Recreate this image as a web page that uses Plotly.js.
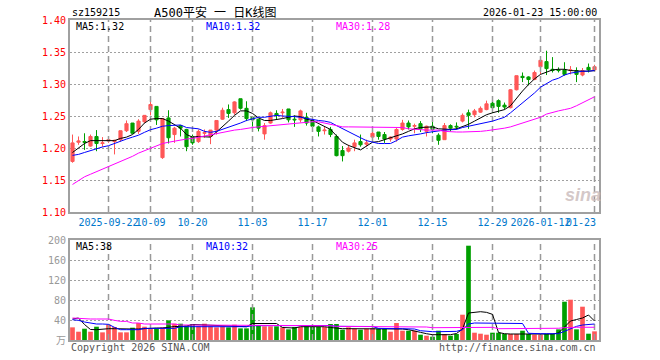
<!DOCTYPE html>
<html><head><meta charset="utf-8">
<script src="https://cdn.plot.ly/plotly-3.0.1.min.js"></script>
<style>html,body{margin:0;padding:0;background:#fff}#chart{width:660px;height:360px}</style>
</head><body><div id="chart"></div>
<script>
const dates = [
'2025-09-12','2025-09-15','2025-09-16','2025-09-17','2025-09-18','2025-09-19',
'2025-09-22','2025-09-23','2025-09-24','2025-09-25','2025-09-26','2025-09-29','2025-09-30',
'2025-10-09','2025-10-10','2025-10-13','2025-10-14','2025-10-15','2025-10-16','2025-10-17',
'2025-10-20','2025-10-21','2025-10-22','2025-10-23','2025-10-24','2025-10-27','2025-10-28','2025-10-29','2025-10-30','2025-10-31',
'2025-11-03','2025-11-04','2025-11-05','2025-11-06','2025-11-07','2025-11-10','2025-11-11','2025-11-12','2025-11-13','2025-11-14',
'2025-11-17','2025-11-18','2025-11-19','2025-11-20','2025-11-21','2025-11-24','2025-11-25','2025-11-26','2025-11-27','2025-11-28',
'2025-12-01','2025-12-02','2025-12-03','2025-12-04','2025-12-05','2025-12-08','2025-12-09','2025-12-10','2025-12-11','2025-12-12',
'2025-12-15','2025-12-16','2025-12-17','2025-12-18','2025-12-19','2025-12-22','2025-12-23','2025-12-24','2025-12-25','2025-12-26',
'2025-12-29','2025-12-30','2025-12-31','2026-01-05','2026-01-06','2026-01-07','2026-01-08','2026-01-09',
'2026-01-12','2026-01-13','2026-01-14','2026-01-15','2026-01-16','2026-01-19','2026-01-20','2026-01-21','2026-01-22','2026-01-23'];

const openP = [1.179,1.209,1.210,1.203,1.218,1.207,1.211,1.210,1.213,1.227,
1.239,1.226,1.241,1.260,1.265,1.185,1.247,1.221,1.235,1.229,
1.218,1.210,1.223,1.218,1.228,1.245,1.260,1.255,1.277,1.262,
1.248,1.245,1.222,1.239,1.254,1.255,1.261,1.245,1.244,1.248,
1.243,1.233,1.227,1.229,1.218,1.196,1.195,1.202,1.210,1.206,
1.217,1.225,1.221,1.214,1.214,1.229,1.239,1.234,1.238,1.226,
1.234,1.220,1.213,1.235,1.234,1.242,1.255,1.252,1.256,1.260,
1.270,1.274,1.267,1.263,1.291,1.312,1.311,1.307,1.327,1.335,
1.323,1.322,1.322,1.321,1.321,1.314,1.326,1.322];
const highP = [1.221,1.218,1.223,1.221,1.228,1.217,1.215,1.213,1.227,1.243,
1.239,1.245,1.251,1.274,1.265,1.246,1.259,1.233,1.236,1.230,
1.221,1.229,1.229,1.228,1.243,1.263,1.268,1.273,1.277,1.273,
1.250,1.245,1.239,1.257,1.259,1.261,1.261,1.251,1.260,1.255,
1.243,1.235,1.233,1.233,1.221,1.203,1.205,1.213,1.221,1.213,
1.226,1.225,1.225,1.218,1.231,1.244,1.243,1.238,1.242,1.235,
1.242,1.223,1.239,1.237,1.240,1.254,1.260,1.261,1.265,1.274,
1.273,1.276,1.271,1.292,1.313,1.318,1.312,1.321,1.337,1.352,
1.342,1.326,1.334,1.328,1.326,1.325,1.332,1.330];
const lowP = [1.177,1.205,1.197,1.202,1.195,1.202,1.208,1.190,1.210,1.225,
1.222,1.222,1.239,1.251,1.236,1.183,1.207,1.208,1.218,1.195,
1.205,1.208,1.216,1.206,1.221,1.244,1.247,1.252,1.260,1.242,
1.229,1.226,1.213,1.238,1.244,1.247,1.240,1.233,1.240,1.235,
1.228,1.218,1.221,1.217,1.187,1.179,1.193,1.195,1.202,1.202,
1.212,1.213,1.208,1.210,1.210,1.227,1.229,1.223,1.225,1.218,
1.223,1.205,1.213,1.226,1.229,1.240,1.230,1.248,1.255,1.259,
1.255,1.255,1.260,1.262,1.290,1.303,1.298,1.306,1.315,1.314,
1.318,1.318,1.313,1.315,1.303,1.312,1.318,1.320];
const closeP = [1.208,1.211,1.209,1.218,1.207,1.208,1.213,1.212,1.227,1.238,
1.223,1.242,1.251,1.268,1.244,1.246,1.216,1.231,1.231,1.202,
1.208,1.226,1.224,1.228,1.243,1.259,1.254,1.272,1.262,1.246,
1.244,1.231,1.235,1.255,1.251,1.256,1.244,1.244,1.258,1.239,
1.234,1.226,1.228,1.221,1.188,1.188,1.200,1.208,1.205,1.208,
1.223,1.218,1.214,1.217,1.229,1.239,1.233,1.235,1.230,1.234,
1.229,1.212,1.235,1.231,1.233,1.251,1.251,1.258,1.262,1.269,
1.263,1.265,1.264,1.291,1.313,1.310,1.307,1.318,1.337,1.324,
1.321,1.321,1.315,1.322,1.315,1.321,1.322,1.327];

const ma5 = [1.193,1.200,1.207,1.2115,1.2115,1.2115,1.2115,1.2115,1.215,1.217,
1.221,1.229,1.239,1.245,1.246,1.246,1.242,1.237,1.231,1.221,
1.217,1.218,1.217,1.217,1.225,1.233,1.242,1.251,1.258,1.258,
1.254,1.247,1.243,1.243,1.244,1.246,1.248,1.250,1.249,1.245,
1.243,1.238,1.233,1.229,1.219,1.209,1.204,1.200,1.197,1.203,
1.209,1.210,1.213,1.215,1.218,1.222,1.226,1.230,1.232,1.233,
1.233,1.230,1.229,1.229,1.230,1.233,1.237,1.242,1.247,1.252,
1.255,1.257,1.260,1.266,1.278,1.289,1.299,1.308,1.315,1.318,
1.322,1.323,1.323,1.321,1.320,1.320,1.320,1.321];
const ma10 = [1.1885,1.190,1.193,1.196,1.198,1.2016,1.2036,1.207,1.2115,1.214,
1.217,1.220,1.2245,1.2286,1.231,1.234,1.235,1.235,1.236,1.232,
1.231,1.230,1.226,1.2245,1.226,1.229,1.232,1.235,1.239,1.243,
1.246,1.248,1.248,1.250,1.251,1.250,1.250,1.249,1.248,1.246,
1.244,1.243,1.242,1.240,1.235,1.230,1.225,1.221,1.216,1.2115,
1.209,1.207,1.207,1.207,1.2115,1.217,1.219,1.220,1.222,1.224,
1.2255,1.227,1.228,1.2286,1.229,1.232,1.234,1.2354,1.2375,1.240,
1.242,1.245,1.248,1.255,1.2625,1.270,1.278,1.286,1.295,1.3005,
1.306,1.309,1.314,1.317,1.319,1.320,1.320,1.321];
const ma30 = [1.143,1.149,1.155,1.159,1.163,1.166,1.170,1.175,1.178,1.182,
1.187,1.192,1.196,1.200,1.203,1.207,1.209,1.211,1.212,1.214,
1.215,1.217,1.218,1.220,1.222,1.225,1.226,1.228,1.229,1.231,
1.232,1.233,1.234,1.235,1.236,1.237,1.238,1.239,1.240,1.241,
1.241,1.241,1.239,1.237,1.235,1.233,1.233,1.233,1.233,1.233,
1.233,1.233,1.233,1.233,1.233,1.232,1.230,1.229,1.228,1.228,
1.228,1.228,1.226,1.225,1.225,1.225,1.225,1.225,1.226,1.227,
1.228,1.229,1.231,1.233,1.236,1.239,1.242,1.245,1.248,1.253,
1.256,1.258,1.260,1.262,1.266,1.271,1.275,1.280];

const volume = [25.3,16.6,22.6,16.6,26.6,15.3,30.6,26,15.3,15.3,
24.6,34,26.6,22,23.3,25.3,39.3,32.6,32.6,28.6,
32,27.3,32.6,27.3,25.3,27.3,25.3,30.6,23.3,23.3,
65.3,30,27.3,27.3,27.3,25.3,21.3,26,26,27.3,
26,26,26,32,32,20.6,25.3,22.6,20.6,22.6,
23.9,22.6,22.6,16.6,34,18.6,18.6,18.6,10.6,8.6,
6.6,18.6,12,8.6,12,50.6,188.6,14.6,12.6,10.6,
14.6,14.6,12,12,12,18.6,12,10.6,10.6,12,
12,21.3,76.6,80.6,21.3,66.6,12.6,17.3];
const vma5 = [42,44,31,21,20.6,22,22.6,22.6,22,22,
22,22,23,24,24,24,26,27,27,28,
31,30.6,30,29,28.6,28.6,28,27,26.6,26.6,
33,33.3,33.3,33.3,33,25,24,24,26.6,26.6,
26.6,26.6,26.6,25,23.3,22.6,22.6,22.6,23.3,23.3,
23.3,23.3,22.6,22,22,22,20.6,18.6,15.3,12.6,
10.6,10.6,10.6,10.6,13,22,54,56,56.6,55.3,
51.3,15,12.6,12,12,12,12.6,12.6,12.6,12.6,
12,14,25.3,38,41,44,50,38];
const vma10 = [40.6,39.3,36,33.3,32,32,31.3,25.3,20.6,20.6,
20.6,20.6,23.3,23.3,23.3,23.3,23.3,23.3,26.6,26.6,
26.6,26.6,26.6,26.6,26.6,26.6,26.6,26.6,26.6,26.6,
28.6,28.6,29.3,29.3,29.3,29.3,29.3,29.3,29.3,29.3,
29.3,29.3,29.3,29,27.3,27.3,27.3,27.3,27,27,
27,23.3,22.6,22.6,22.6,22.6,22,22,18.6,17.3,
16.6,16.6,16.6,16.6,17.3,20.6,32,34,34,34,
34,34,34,34,34,33,13.4,12.6,12.6,12.6,
12.6,12.6,17.3,22,27.3,30,30.6,32];
const vma30 = [44,43,42,42,42,42,42,39.3,37.3,37.3,
34,34,32,32,32,32,32,32,30,30,
30,30,30,30,30,28.6,28.6,28.6,28.6,28.6,
28.6,28.6,28.6,28.6,28.6,28.6,28.6,28.6,28.6,28.6,
28.6,28.6,28.6,28.6,27.3,27.3,27.3,27.3,27.3,27.3,
27.3,26,26,26,26,26,26,26,26,26,
24.6,24.6,24.6,24.6,24.6,24.6,25.3,25.3,25.3,25.3,
25.3,22.6,22.6,22.6,22.6,22.6,22.6,22.6,22.6,22.6,
22.6,23.5,24.6,25.5,25.5,25.5,25.5,25.5];

const tickDates = ['2025-09-22','2025-10-09','2025-10-20','2025-11-03','2025-11-17','2025-12-01','2025-12-15','2025-12-29','2026-01-12','2026-01-23'];
const tickLabels = ['2025-09-22','10-09','10-20','11-03','11-17','12-01','12-15','12-29','2026-01-12',''];
const lastLabel = '01-23';
const priceTicks = [1.10,1.15,1.20,1.25,1.30,1.35,1.40];
const volTicks = [0,40,80,120,160,200];
const volTickText = ['万','40','80','120','160','200'];
const priceRange = [1.10, 1.40];
const volRange = [0, 200];

// trading-day slot of each date (one slot per trading day, as on the K-line chart)
const xi = dates.map((d,i)=>i);
const tickPos = tickDates.map(d=>dates.indexOf(d));

const RED = '#ff5757', GREEN = '#009f00', GRID = '#a0a0a0', VGRID = '#999999';
const volColors = closeP.map((c,i)=> c >= openP[i] ? RED : GREEN);
const MONO = 'DejaVu Sans Mono, Noto Sans CJK SC, monospace';

// vertical dashed date grid lines, one scatter trace per tick date in each panel
const traces = [];
tickPos.forEach(p => {
  traces.push({type:'scatter', mode:'lines', x:[p,p], y:priceRange, xaxis:'x', yaxis:'y', line:{color:VGRID, width:1.5, dash:'6px,4px'}, hoverinfo:'skip'});
  traces.push({type:'scatter', mode:'lines', x:[p,p], y:volRange, xaxis:'x2', yaxis:'y2', line:{color:VGRID, width:1.5, dash:'6px,4px'}, hoverinfo:'skip'});
});
traces.push(
  {type:'candlestick', x:xi, open:openP, high:highP, low:lowP, close:closeP, text:dates, xaxis:'x', yaxis:'y',
   increasing:{line:{color:RED,width:1}, fillcolor:RED},
   decreasing:{line:{color:GREEN,width:1}, fillcolor:GREEN},
   whiskerwidth:0, hoverinfo:'skip'},
  {type:'scatter', mode:'lines', x:xi, y:ma5, xaxis:'x', yaxis:'y', line:{color:'#000000',width:1}, hoverinfo:'skip'},
  {type:'scatter', mode:'lines', x:xi, y:ma10, xaxis:'x', yaxis:'y', line:{color:'#0000ff',width:1}, hoverinfo:'skip'},
  {type:'scatter', mode:'lines', x:xi, y:ma30, xaxis:'x', yaxis:'y', line:{color:'#ff00ff',width:1}, hoverinfo:'skip'},
  {type:'bar', x:xi, y:volume, text:dates, textposition:'none', xaxis:'x2', yaxis:'y2', marker:{color:volColors, line:{width:0}}, width:0.78, hoverinfo:'skip'},
  {type:'scatter', mode:'lines', x:xi, y:vma5, xaxis:'x2', yaxis:'y2', line:{color:'#000000',width:1}, hoverinfo:'skip'},
  {type:'scatter', mode:'lines', x:xi, y:vma10, xaxis:'x2', yaxis:'y2', line:{color:'#0000ff',width:1}, hoverinfo:'skip'},
  {type:'scatter', mode:'lines', x:xi, y:vma30, xaxis:'x2', yaxis:'y2', line:{color:'#ff00ff',width:1}, hoverinfo:'skip'}
);

const L=70, R=599, T=20, B=340;
const px = x => (x - L)/(R - L);
const py = y => (B - y)/(B - T);
const XRANGE = [-0.41667, -0.41667 + (R - L)/6];

const axisBox = {showline:true, mirror:true, linecolor:'#a0a0a0', linewidth:2, zeroline:false, ticks:'', fixedrange:true};

const layout = {
  width:660, height:360,
  margin:{l:L, r:660-R, t:T, b:360-B, pad:0},
  paper_bgcolor:'#ffffff', plot_bgcolor:'#ffffff',
  showlegend:false, boxgap:0.25,
  font:{family:MONO, size:10, color:'#000'},
  xaxis:Object.assign({}, axisBox, {type:'linear', range:XRANGE,
    anchor:'y', tickmode:'array', tickvals:tickPos, ticktext:tickLabels, tickangle:0, showgrid:false,
    tickfont:{family:MONO, size:10, color:'#0077cc'}, rangeslider:{visible:false}}),
  yaxis:Object.assign({}, axisBox, {domain:[py(212),1], range:priceRange, tickmode:'array', tickvals:priceTicks,
    ticktext:priceTicks.map(v=>v.toFixed(2)), showgrid:true, gridcolor:GRID, griddash:'2px,2px', gridwidth:1,
    tickfont:{family:MONO, size:10, color:'#ff0000'}}),
  xaxis2:Object.assign({}, axisBox, {type:'linear', range:XRANGE,
    anchor:'y2', tickmode:'array', tickvals:tickPos, showticklabels:false, showgrid:false}),
  yaxis2:Object.assign({}, axisBox, {domain:[0,py(240)], range:volRange, tickmode:'array', tickvals:volTicks, ticktext:volTickText,
    showgrid:true, gridcolor:GRID, griddash:'2px,2px', gridwidth:1,
    tickfont:{family:MONO, size:10, color:'#999999'}}),
  annotations:[
    {xref:'paper', yref:'paper', x:px(70), y:py(13), xanchor:'left', yanchor:'middle', showarrow:false, text:'sz159215', font:{family:MONO,size:10,color:'#000'}},
    {xref:'paper', yref:'paper', x:px(152), y:py(13), xanchor:'left', yanchor:'middle', showarrow:false, text:'A500平安 一 日K线图', font:{family:MONO,size:12,color:'#000'}},
    {xref:'paper', yref:'paper', x:px(599), y:py(13), xanchor:'right', yanchor:'middle', showarrow:false, text:'2026-01-23 15:00:00', font:{family:MONO,size:10,color:'#000'}},
    {xref:'paper', yref:'paper', x:px(74), y:py(27), xanchor:'left', yanchor:'middle', showarrow:false, text:'MA5:1.32', font:{family:MONO,size:10,color:'#000000'}},
    {xref:'paper', yref:'paper', x:px(204), y:py(27), xanchor:'left', yanchor:'middle', showarrow:false, text:'MA10:1.32', font:{family:MONO,size:10,color:'#0000ff'}},
    {xref:'paper', yref:'paper', x:px(334), y:py(27), xanchor:'left', yanchor:'middle', showarrow:false, text:'MA30:1.28', font:{family:MONO,size:10,color:'#ff00ff'}},
    {xref:'paper', yref:'paper', x:px(74), y:py(246), xanchor:'left', yanchor:'middle', showarrow:false, text:'MA5:38', font:{family:MONO,size:10,color:'#000000'}},
    {xref:'paper', yref:'paper', x:px(204), y:py(246), xanchor:'left', yanchor:'middle', showarrow:false, text:'MA10:32', font:{family:MONO,size:10,color:'#0000ff'}},
    {xref:'paper', yref:'paper', x:px(334), y:py(246), xanchor:'left', yanchor:'middle', showarrow:false, text:'MA30:25', font:{family:MONO,size:10,color:'#ff00ff'}},
    {xref:'paper', yref:'paper', x:px(598), y:py(222), xanchor:'right', yanchor:'middle', showarrow:false, text:lastLabel, font:{family:MONO,size:10,color:'#0077cc'}},
    {xref:'paper', yref:'paper', x:px(69), y:py(347), xanchor:'left', yanchor:'middle', showarrow:false, text:'Copyright 2026 SINA.COM', font:{family:MONO,size:10,color:'#555555'}},
    {xref:'paper', yref:'paper', x:px(598), y:py(347), xanchor:'right', yanchor:'middle', showarrow:false, text:'http://finance.sina.com.cn', font:{family:MONO,size:10,color:'#555555'}},
    {xref:'paper', yref:'paper', x:px(583), y:py(195), xanchor:'center', yanchor:'middle', showarrow:false, text:'<b><i>sina</i></b>', font:{family:'Liberation Sans, Arial, sans-serif',size:18,color:'rgba(205,190,190,0.85)'}}
  ]
};

Plotly.newPlot('chart', traces, layout, {displayModeBar:false, staticPlot:true});
</script>
</body></html>
